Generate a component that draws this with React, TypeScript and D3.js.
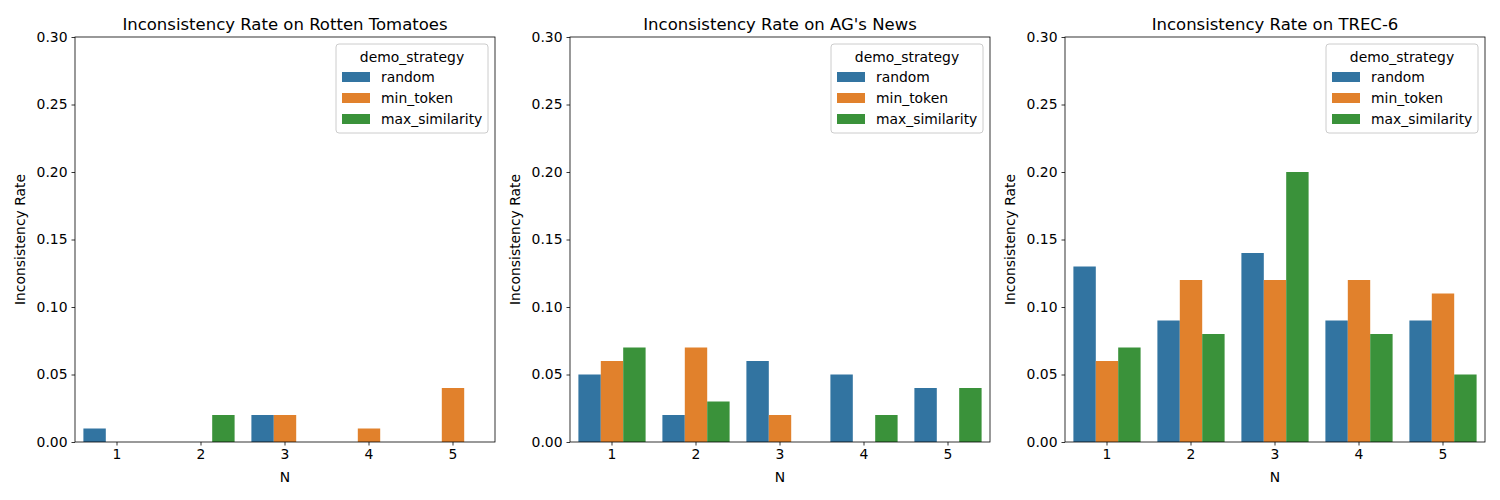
import React, { useEffect, useRef } from 'react';
import * as d3 from 'd3';

const nValues = ['1', '2', '3', '4', '5'];
const strategies = ['random', 'min_token', 'max_similarity'];
const strategyColors = ['#3274a1', '#e1812c', '#3a923a'];
const yTicks = [0, 0.05, 0.1, 0.15, 0.2, 0.25, 0.3];

const panelTitles = [
  'Inconsistency Rate on Rotten Tomatoes',
  "Inconsistency Rate on AG's News",
  'Inconsistency Rate on TREC-6',
];

// values per strategy, indexed by N
const rottenRandom = [0.01, 0, 0.02, 0, 0];
const rottenMinToken = [0, 0, 0.02, 0.01, 0.04];
const rottenMaxSim = [0, 0.02, 0, 0, 0];

const agRandom = [0.05, 0.02, 0.06, 0.05, 0.04];
const agMinToken = [0.06, 0.07, 0.02, 0, 0];
const agMaxSim = [0.07, 0.03, 0, 0.02, 0.04];

const trecRandom = [0.13, 0.09, 0.14, 0.09, 0.09];
const trecMinToken = [0.06, 0.12, 0.12, 0.12, 0.11];
const trecMaxSim = [0.07, 0.08, 0.2, 0.08, 0.05];

const panelData = [
  [rottenRandom, rottenMinToken, rottenMaxSim],
  [agRandom, agMinToken, agMaxSim],
  [trecRandom, trecMinToken, trecMaxSim],
];

const App: React.FC = () => {
  const svgRef = useRef<SVGSVGElement>(null);

  useEffect(() => {
    if (!svgRef.current) return;
    const svg = d3.select(svgRef.current);
    svg.selectAll('*').remove();

    const width = 1500;
    const height = 500;
    svg.attr('width', width).attr('height', height);

    const font = 'DejaVu Sans, sans-serif';
    const plotTop = 37;
    const plotBottom = 442;
    const plotWidth = 420;
    const lefts = [75, 570, 1065];

    panelData.forEach((series, p) => {
      const g = svg.append('g').attr('transform', `translate(${lefts[p]},0)`);

      const x = d3.scaleBand().domain(nValues).range([0, plotWidth]).paddingInner(0.2).paddingOuter(0.1);
      const xInner = d3.scaleBand().domain(strategies).range([0, x.bandwidth()]);
      const y = d3.scaleLinear().domain([0, 0.3]).range([plotBottom, plotTop]);

      // bars
      series.forEach((vals, s) => {
        g.selectAll(`.bar-${s}`)
          .data(vals)
          .enter()
          .append('rect')
          .attr('x', (_, i) => (x(nValues[i]) ?? 0) + (xInner(strategies[s]) ?? 0))
          .attr('y', d => y(d))
          .attr('width', xInner.bandwidth())
          .attr('height', d => y(0) - y(d))
          .attr('fill', strategyColors[s]);
      });

      // axes
      const xAxis = g.append('g')
        .attr('transform', `translate(0,${plotBottom})`)
        .call(d3.axisBottom(x).tickSizeOuter(0).tickSize(3.5).tickPadding(4));
      const yAxis = g.append('g')
        .call(d3.axisLeft(y).tickValues(yTicks).tickFormat(d3.format('.2f')).tickSizeOuter(0).tickSize(3.5).tickPadding(4));
      [xAxis, yAxis].forEach(a => {
        a.select('.domain').remove();
        a.selectAll('line').attr('stroke', '#000').attr('stroke-width', 0.8);
        a.selectAll('text').attr('font-family', font).attr('font-size', 13.9).attr('fill', '#000');
      });

      // frame
      g.append('rect')
        .attr('x', 0)
        .attr('y', plotTop)
        .attr('width', plotWidth)
        .attr('height', plotBottom - plotTop)
        .attr('fill', 'none')
        .attr('stroke', '#000')
        .attr('stroke-width', 0.8);

      // title
      g.append('text')
        .attr('x', plotWidth / 2)
        .attr('y', plotTop - 7)
        .attr('text-anchor', 'middle')
        .attr('font-family', font)
        .attr('font-size', 16.5)
        .text(panelTitles[p]);

      // axis labels
      g.append('text')
        .attr('x', plotWidth / 2)
        .attr('y', 482)
        .attr('text-anchor', 'middle')
        .attr('font-family', font)
        .attr('font-size', 13.9)
        .text('N');
      g.append('text')
        .attr('transform', 'rotate(-90)')
        .attr('x', -(plotTop + plotBottom) / 2)
        .attr('y', -50)
        .attr('text-anchor', 'middle')
        .attr('font-family', font)
        .attr('font-size', 13.9)
        .text('Inconsistency Rate');

      // legend
      const lg = g.append('g').attr('transform', `translate(${plotWidth - 159},44)`);
      lg.append('rect')
        .attr('width', 152)
        .attr('height', 89)
        .attr('rx', 3)
        .attr('fill', '#fff')
        .attr('fill-opacity', 0.8)
        .attr('stroke', '#ccc')
        .attr('stroke-width', 1);
      lg.append('text')
        .attr('x', 76)
        .attr('y', 18)
        .attr('text-anchor', 'middle')
        .attr('font-family', font)
        .attr('font-size', 13.9)
        .text('demo_strategy');
      strategies.forEach((s, i) => {
        lg.append('rect')
          .attr('x', 6)
          .attr('y', 28 + i * 21)
          .attr('width', 28)
          .attr('height', 10)
          .attr('fill', strategyColors[i]);
        lg.append('text')
          .attr('x', 45)
          .attr('y', 38 + i * 21)
          .attr('font-family', font)
          .attr('font-size', 13.9)
          .text(s);
      });
    });
  }, []);

  return <svg ref={svgRef} style={{ display: 'block', position: 'absolute', left: 0, top: 0 }}></svg>;
};

export default App;
